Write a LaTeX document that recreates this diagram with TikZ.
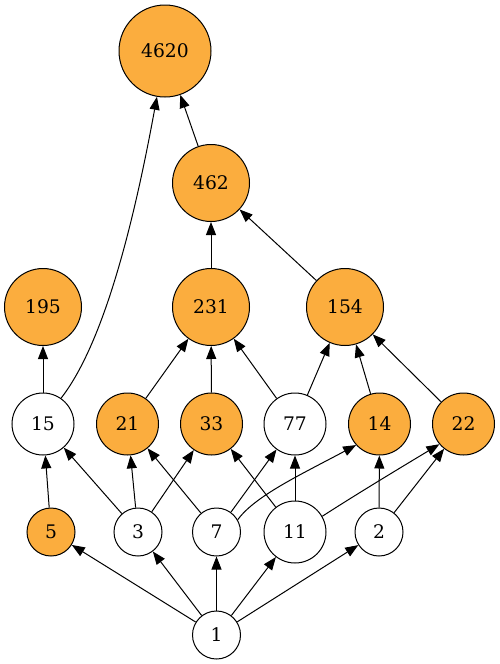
\documentclass[tikz,border=0pt]{standalone}
\usepackage{fontspec}
\setmainfont{DejaVu Serif}
\usetikzlibrary{arrows.meta}
\definecolor{org}{HTML}{FBAD3E}
\begin{document}
\begin{tikzpicture}[x=1pt,y=-1pt,
  nd/.style={circle,draw=black,line width=1pt,inner sep=0pt,font=\fontsize{18.7}{20}\selectfont},
  hi/.style={nd,fill=org},
  lo/.style={nd,fill=white},
  edge/.style={line width=1pt,-{Triangle[length=13pt,width=10pt]}}]
\useasboundingbox (0,0) rectangle (499,664);
\node[hi,minimum size=92pt] (n4620) at (165,51) {4620};
\node[hi,minimum size=77pt] (n462) at (211,183) {462};
\node[hi,minimum size=77pt] (n195) at (43,307) {195};
\node[hi,minimum size=77pt] (n231) at (211,307) {231};
\node[hi,minimum size=77pt] (n154) at (345,307) {154};
\node[lo,minimum size=62pt] (n15) at (43,424) {15};
\node[hi,minimum size=62pt] (n21) at (127.5,424) {21};
\node[hi,minimum size=62pt] (n33) at (211.5,424) {33};
\node[lo,minimum size=62pt] (n77) at (295,424) {77};
\node[hi,minimum size=62pt] (n14) at (379.5,424) {14};
\node[hi,minimum size=62pt] (n22) at (463.5,424) {22};
\node[hi,minimum size=48pt] (n5) at (51,532) {5};
\node[lo,minimum size=48pt] (n3) at (138,532) {3};
\node[lo,minimum size=48pt] (n7) at (216.5,532) {7};
\node[lo,minimum size=62pt] (n11) at (295,532) {11};
\node[lo,minimum size=48pt] (n2) at (379,532) {2};
\node[lo,minimum size=48pt] (n1) at (216.5,635) {1};
% edges from 1
\foreach \t in {n5,n3,n7,n11,n2} \draw[edge] (n1) -- (\t);
% second layer
\draw[edge] (n5) -- (n15);
\draw[edge] (n3) -- (n15);
\draw[edge] (n3) -- (n21);
\draw[edge] (n3) -- (n33);
\draw[edge] (n7) -- (n21);
\draw[edge] (n7) -- (n77);
\draw[edge] (n7.30) .. controls (255,496) and (300,475) .. (n14.222);
\draw[edge] (n11) -- (n33);
\draw[edge] (n11) -- (n77);
\draw[edge] (n11.30) .. controls (360,492) and (400,468) .. (n22.220);
\draw[edge] (n2) -- (n14);
\draw[edge] (n2) -- (n22);
% third layer
\draw[edge] (n15) -- (n195);
\draw[edge] (n15.55) .. controls (97,352) and (128,255) .. (n4620.260);
\draw[edge] (n21) -- (n231);
\draw[edge] (n33) -- (n231);
\draw[edge] (n77) -- (n231);
\draw[edge] (n77) -- (n154);
\draw[edge] (n14) -- (n154);
\draw[edge] (n22) -- (n154);
\draw[edge] (n231) -- (n462);
\draw[edge] (n154) -- (n462);
\draw[edge] (n462) -- (n4620);
\end{tikzpicture}
\end{document}
